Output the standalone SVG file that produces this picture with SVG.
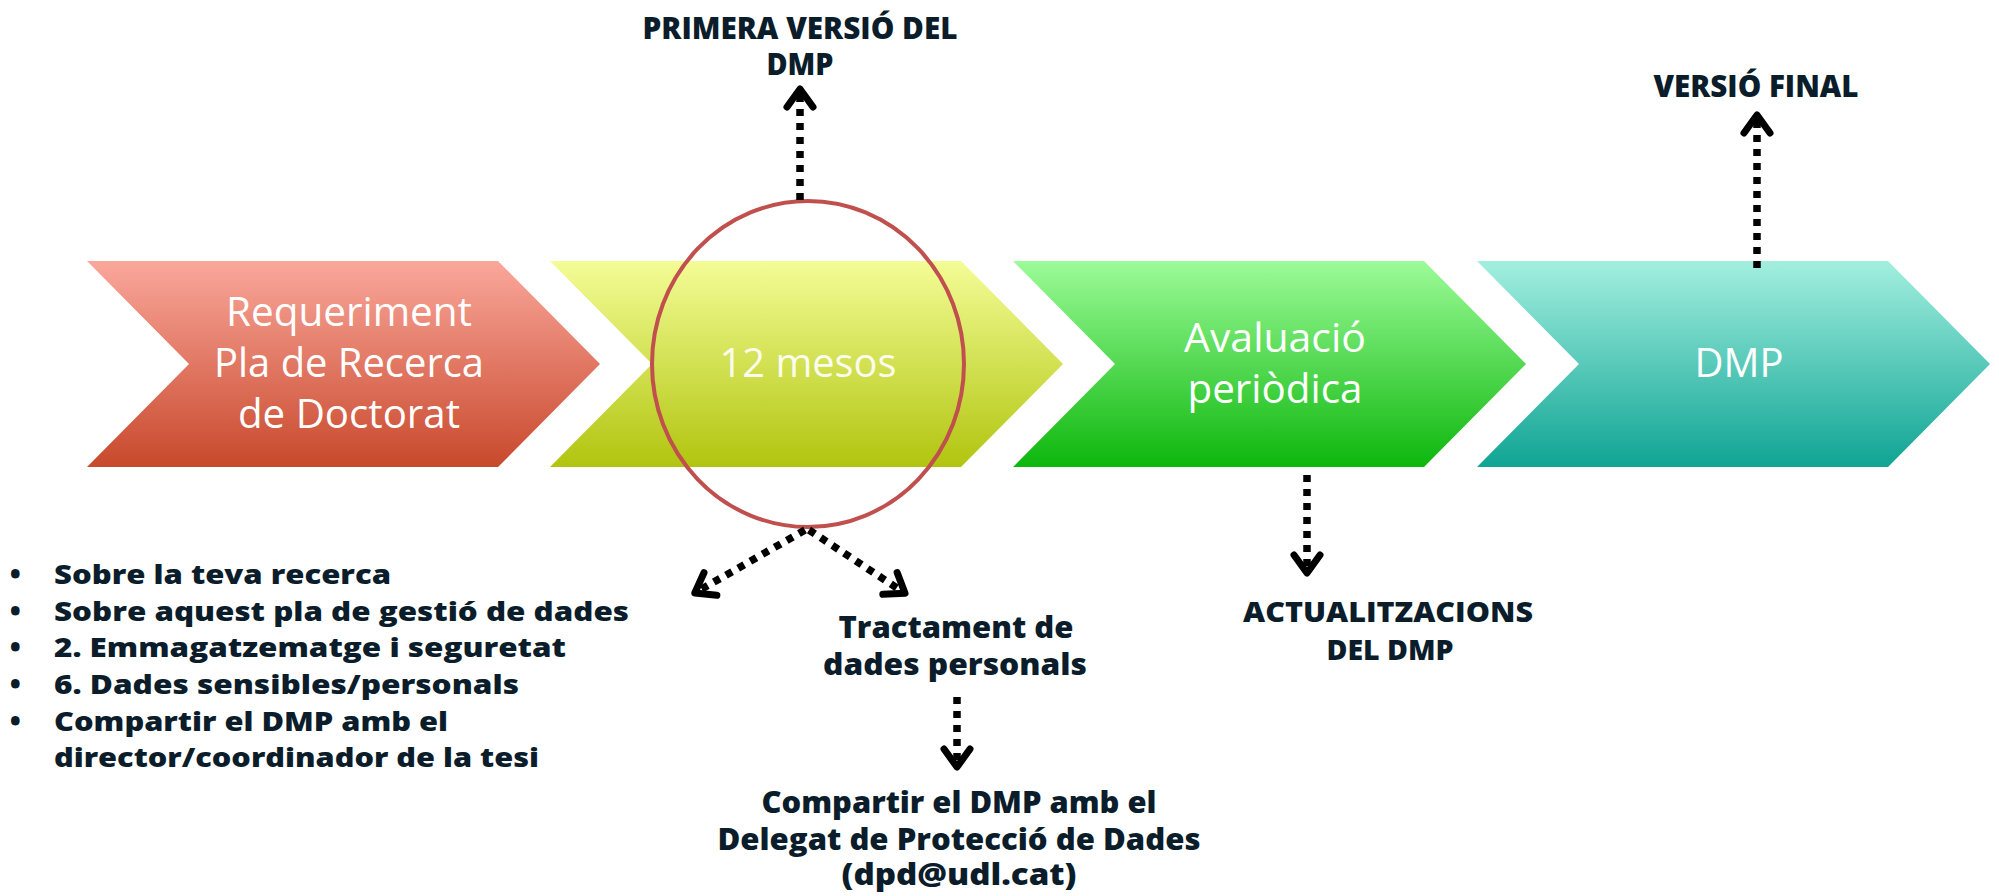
<svg xmlns="http://www.w3.org/2000/svg" width="1999" height="896" viewBox="0 0 1999 896">
<style>
.step{font-family:"Open Sans","Lato","Liberation Sans",sans-serif;font-weight:400;font-size:40px;fill:#fff;text-anchor:middle}
.lbl{font-family:"Open Sans","Liberation Sans",sans-serif;font-weight:800;fill:#0B1D2B;text-anchor:middle}
.list{font-family:"Open Sans","Liberation Sans",sans-serif;font-weight:800;font-size:27px;fill:#0B1D2B}
.dot{fill:none;stroke:#000;stroke-width:7.5;stroke-dasharray:7 7;marker-end:url(#ah)}
</style>
<defs>
<linearGradient id="g1" x1="0" y1="0" x2="0" y2="1"><stop offset="0" stop-color="#FAA79B"/><stop offset="1" stop-color="#C8492C"/></linearGradient>
<linearGradient id="g2" x1="0" y1="0" x2="0" y2="1"><stop offset="0" stop-color="#F4FC96"/><stop offset="1" stop-color="#B1C50F"/></linearGradient>
<linearGradient id="g3" x1="0" y1="0" x2="0" y2="1"><stop offset="0" stop-color="#9CFB98"/><stop offset="1" stop-color="#0DB70D"/></linearGradient>
<linearGradient id="g4" x1="0" y1="0" x2="0" y2="1"><stop offset="0" stop-color="#A3EFDF"/><stop offset="1" stop-color="#0FA494"/></linearGradient>
<marker id="ah" markerUnits="userSpaceOnUse" markerWidth="40" markerHeight="40" refX="0" refY="0" orient="auto" style="overflow:visible">
<path d="M-12,-13 L6,0 L-12,13" fill="none" stroke="#000" stroke-width="7" stroke-linecap="round" stroke-linejoin="round"/>
</marker>
</defs>

<g id="step1">
<polygon points="87,261 498,261 600,364 498,467 87,467 189,364" fill="url(#g1)"/>
<text class="step" x="349" y="326" textLength="246" lengthAdjust="spacingAndGlyphs">Requeriment</text>
<text class="step" x="349" y="377" textLength="270" lengthAdjust="spacingAndGlyphs">Pla de Recerca</text>
<text class="step" x="349" y="428" textLength="222" lengthAdjust="spacingAndGlyphs">de Doctorat</text>
</g>
<g id="step2">
<polygon points="550,261 961,261 1063,364 961,467 550,467 652,364" fill="url(#g2)"/>
<text class="step" x="808" y="377" fill-opacity="0.92" textLength="177" lengthAdjust="spacingAndGlyphs">12 mesos</text>
</g>
<g id="step3">
<polygon points="1013,261 1424,261 1526,364 1424,467 1013,467 1115,364" fill="url(#g3)"/>
<text class="step" x="1275" y="352" textLength="182" lengthAdjust="spacingAndGlyphs">Avaluació</text>
<text class="step" x="1275" y="403" textLength="175" lengthAdjust="spacingAndGlyphs">periòdica</text>
</g>
<g id="step4">
<polygon points="1477,261 1888,261 1990,364 1888,467 1477,467 1579,364" fill="url(#g4)"/>
<text class="step" x="1739" y="377" textLength="89" lengthAdjust="spacingAndGlyphs">DMP</text>
</g>
<g id="highlight">
<ellipse cx="808" cy="364" rx="156" ry="163" fill="none" stroke="#C0504D" stroke-width="4"/>
</g>

<g id="connectors">
<path class="dot" d="M800,200 L800,95"/>
<path class="dot" d="M1757,268 L1757,121"/>
<path class="dot" d="M1307,475 L1307,567"/>
<path class="dot" d="M957,697 L957,761"/>
<path class="dot" d="M805,530 L700,590"/>
<path class="dot" d="M809,530 L900,590"/>
</g>

<g id="label-primera">
<text class="lbl" font-size="30" x="800" y="39" textLength="315" lengthAdjust="spacingAndGlyphs">PRIMERA VERSIÓ DEL</text>
<text class="lbl" font-size="30" x="800" y="75" textLength="67" lengthAdjust="spacingAndGlyphs">DMP</text>
</g>
<g id="label-final">
<text class="lbl" font-size="30" x="1756" y="97" textLength="205" lengthAdjust="spacingAndGlyphs">VERSIÓ FINAL</text>
</g>
<g id="label-actualitzacions">
<text class="lbl" font-size="28" x="1388" y="622" textLength="290" lengthAdjust="spacingAndGlyphs">ACTUALITZACIONS</text>
<text class="lbl" font-size="28" x="1390" y="660" textLength="127" lengthAdjust="spacingAndGlyphs">DEL DMP</text>
</g>
<g id="label-tractament">
<text class="lbl" font-size="30" x="956" y="638" textLength="235" lengthAdjust="spacingAndGlyphs">Tractament de</text>
<text class="lbl" font-size="30" x="955" y="675" textLength="264" lengthAdjust="spacingAndGlyphs">dades personals</text>
</g>
<g id="label-dpd">
<text class="lbl" font-size="30" x="959" y="813" textLength="395" lengthAdjust="spacingAndGlyphs">Compartir el DMP amb el</text>
<text class="lbl" font-size="30" x="959" y="850" textLength="483" lengthAdjust="spacingAndGlyphs">Delegat de Protecció de Dades</text>
<text class="lbl" font-size="30" x="959" y="885" textLength="235" lengthAdjust="spacingAndGlyphs">(dpd@udl.cat)</text>
</g>
<g id="list">
<text class="list" x="10" y="584">•</text><text class="list" x="54" y="584" textLength="337" lengthAdjust="spacingAndGlyphs">Sobre la teva recerca</text>
<text class="list" x="10" y="621">•</text><text class="list" x="54" y="621" textLength="575" lengthAdjust="spacingAndGlyphs">Sobre aquest pla de gestió de dades</text>
<text class="list" x="10" y="657">•</text><text class="list" x="54" y="657" textLength="512" lengthAdjust="spacingAndGlyphs">2. Emmagatzematge i seguretat</text>
<text class="list" x="10" y="694">•</text><text class="list" x="54" y="694" textLength="465" lengthAdjust="spacingAndGlyphs">6. Dades sensibles/personals</text>
<text class="list" x="10" y="731">•</text><text class="list" x="54" y="731" textLength="394" lengthAdjust="spacingAndGlyphs">Compartir el DMP amb el</text>
<text class="list" x="54" y="767" textLength="485" lengthAdjust="spacingAndGlyphs">director/coordinador de la tesi</text>
</g>
</svg>
